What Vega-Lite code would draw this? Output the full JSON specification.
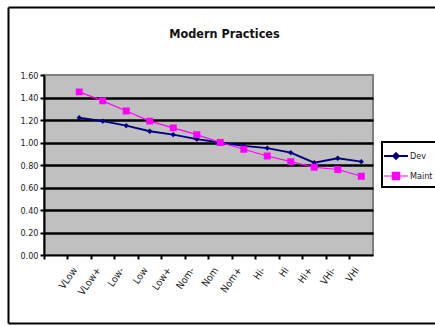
{
  "$schema": "https://vega.github.io/schema/vega-lite/v6.json",
  "width": 329,
  "height": 180,
  "autosize": {"type": "none"},
  "padding": {"left": 44, "top": 75, "right": 62, "bottom": 71},
  "background": "white",
  "title": {
    "text": "Modern Practices",
    "font": "Liberation Sans Narrow, DejaVu Sans Condensed, Arial Narrow, sans-serif",
    "fontSize": 12.5,
    "fontWeight": "bold",
    "color": "#111",
    "offset": -33,
    "dx": 16
  },
  "config": {
    "view": {"fill": "#C0C0C0", "stroke": "#808080", "strokeWidth": 2},
    "axis": {
      "labelFont": "Liberation Sans Narrow, DejaVu Sans Condensed, Arial Narrow, sans-serif",
      "labelFontSize": 9, "labelColor": "#222", "title": null
    }
  },
  "layer": [
    {
      "data": {"values": [{}]},
      "mark": {"type": "point", "opacity": 0},
      "encoding": {
        "x": {
          "datum": 0, "type": "quantitative",
          "scale": {"domain": [0, 1], "range": [-36, 395]},
          "axis": {"orient": "top", "offset": 68, "domainColor": "black", "domainWidth": 2, "ticks": false, "labels": false, "grid": false}
        },
        "y": {
          "datum": 0, "type": "quantitative",
          "scale": {"domain": [0, 1], "range": [248, -68]},
          "axis": {"orient": "left", "offset": 36, "domainColor": "black", "domainWidth": 2, "ticks": false, "labels": false, "grid": false}
        }
      }
    },
    {
      "data": {"values": [{}]},
      "mark": {"type": "point", "opacity": 0},
      "encoding": {
        "x": {
          "datum": 0, "type": "quantitative",
          "scale": {"domain": [0, 1], "range": [-36, 395]},
          "axis": {"orient": "bottom", "offset": 68, "domainColor": "black", "domainWidth": 2, "ticks": false, "labels": false, "grid": false}
        }
      }
    },
    {
      "data": {
        "values": [
          {"level": "VLow", "series": "Dev", "value": 1.22},
          {"level": "VLow+", "series": "Dev", "value": 1.19},
          {"level": "Low-", "series": "Dev", "value": 1.15},
          {"level": "Low", "series": "Dev", "value": 1.10},
          {"level": "Low+", "series": "Dev", "value": 1.07},
          {"level": "Nom-", "series": "Dev", "value": 1.03},
          {"level": "Nom", "series": "Dev", "value": 1.00},
          {"level": "Nom+", "series": "Dev", "value": 0.97},
          {"level": "Hi-", "series": "Dev", "value": 0.95},
          {"level": "Hi", "series": "Dev", "value": 0.91},
          {"level": "Hi+", "series": "Dev", "value": 0.82},
          {"level": "VHi-", "series": "Dev", "value": 0.86},
          {"level": "VHi", "series": "Dev", "value": 0.83},
          {"level": "VLow", "series": "Maint", "value": 1.45},
          {"level": "VLow+", "series": "Maint", "value": 1.37},
          {"level": "Low-", "series": "Maint", "value": 1.28},
          {"level": "Low", "series": "Maint", "value": 1.19},
          {"level": "Low+", "series": "Maint", "value": 1.13},
          {"level": "Nom-", "series": "Maint", "value": 1.07},
          {"level": "Nom", "series": "Maint", "value": 1.00},
          {"level": "Nom+", "series": "Maint", "value": 0.94},
          {"level": "Hi-", "series": "Maint", "value": 0.88},
          {"level": "Hi", "series": "Maint", "value": 0.83},
          {"level": "Hi+", "series": "Maint", "value": 0.78},
          {"level": "VHi-", "series": "Maint", "value": 0.76},
          {"level": "VHi", "series": "Maint", "value": 0.70}
        ]
      },
      "encoding": {
        "x": {
          "field": "level", "type": "nominal", "bandPosition": 0.5, "sort": null,
          "scale": {
            "type": "band",
            "domain": [" ", "VLow", "VLow+", "Low-", "Low", "Low+", "Nom-", "Nom", "Nom+", "Hi-", "Hi", "Hi+", "VHi-", "VHi"],
            "paddingInner": 0, "paddingOuter": 0
          },
          "axis": {
            "orient": "bottom", "bandPosition": 0, "labelOffset": -4,
            "labelAngle": -55, "labelAlign": "right", "labelBaseline": "middle", "labelPadding": 9,
            "labelFontSize": 10,
            "domainColor": "black", "domainWidth": 2,
            "tickColor": "black", "tickWidth": 2, "tickSize": 4, "grid": false
          }
        },
        "y": {
          "field": "value", "type": "quantitative",
          "scale": {"domain": [0, 1.6], "nice": false, "zero": true},
          "axis": {
            "orient": "left",
            "values": [0, 0.2, 0.4, 0.6, 0.8, 1.0, 1.2, 1.4, 1.6],
            "format": ".2f",
            "domainColor": "black", "domainWidth": 2,
            "tickColor": "black", "tickWidth": 2, "tickSize": 4, "labelPadding": 2,
            "grid": true, "gridColor": "black", "gridWidth": 2.5,
            "gridOpacity": {"condition": {"test": "datum.value >= 1.6 || datum.value <= 0", "value": 0}, "value": 1}
          }
        },
        "color": {
          "field": "series", "type": "nominal",
          "scale": {"domain": ["Dev", "Maint"], "range": ["#000080", "#FF00FF"]},
          "legend": {
            "title": null, "orient": "none", "legendX": 338, "legendY": 67,
            "strokeColor": "black", "fillColor": "white",
            "padding": 5, "rowPadding": 4, "symbolSize": 256, "symbolStrokeWidth": 2,
            "labelFont": "Liberation Sans Narrow, DejaVu Sans Condensed, Arial Narrow, sans-serif",
            "labelFontSize": 9, "labelColor": "#222", "labelOffset": 5,
            "encode": {
              "legend": {"update": {"strokeWidth": {"value": 2}}},
              "symbols": {
                "update": {
                  "stroke": {"signal": "datum.value === 'Dev' ? '#000080' : '#FF00FF'"}
                }
              }
            }
          }
        },
        "shape": {
          "field": "series", "type": "nominal",
          "scale": {
            "domain": ["Dev", "Maint"],
            "range": ["M-1.5,0H1.5M0,-0.35L0.35,0L0,0.35L-0.35,0Z", "M-1.5,0H1.5M-0.45,-0.45H0.45V0.45H-0.45Z"]
          }
        }
      },
      "layer": [
        {
          "mark": {"type": "line"},
          "encoding": {
            "strokeWidth": {
              "field": "series", "type": "nominal",
              "scale": {"domain": ["Dev", "Maint"], "range": [2, 1.2]},
              "legend": null
            }
          }
        },
        {"mark": {"type": "point", "filled": true, "opacity": 1, "size": 240}}
      ]
    }
  ],
  "resolve": {"scale": {"x": "independent", "y": "independent"}, "axis": {"x": "independent", "y": "independent"}}
}
